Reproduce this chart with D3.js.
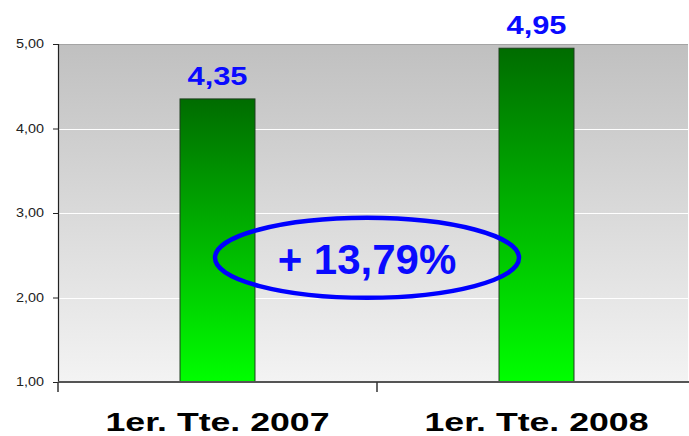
<!DOCTYPE html>
<html>
<head>
<meta charset="utf-8">
<script src="https://cdn.jsdelivr.net/npm/d3@7"></script>
<style>
    body { margin: 0; background: #fff; }
    svg { display: block; font-family: "Liberation Sans", Arial, sans-serif; }
</style>
</head>
<body>
<svg id="chart"></svg>
<script>
const categories = ["1er. Tte. 2007", "1er. Tte. 2008"];
const values = [4.35, 4.95];
const valueLabels = ["4,35", "4,95"];
const yTicks = [1, 2, 3, 4, 5];
const yTickLabels = ["1,00", "2,00", "3,00", "4,00", "5,00"];
const changeLabel = "+ 13,79%";

const width = 689, height = 436;
const margin = { top: 44, left: 58, bottom: 54 };
const plotRight = 688;

const svg = d3.select("#chart").attr("width", width).attr("height", height);

const x = d3.scaleBand().domain(categories).range([margin.left, 696]).padding(0);
const y = d3.scaleLinear().domain([1, 5]).range([height - margin.bottom, margin.top]);

const defs = svg.append("defs");
const bg = defs.append("linearGradient").attr("id", "bg").attr("x1", 0).attr("y1", 0).attr("x2", 0).attr("y2", 1);
bg.append("stop").attr("offset", "0%").attr("stop-color", "#c0c0c0");
bg.append("stop").attr("offset", "100%").attr("stop-color", "#f3f3f3");

const barGrad = defs.append("linearGradient").attr("id", "bar").attr("x1", 0).attr("y1", 0).attr("x2", 0).attr("y2", 1);
barGrad.append("stop").attr("offset", "0%").attr("stop-color", "#006c00");
barGrad.append("stop").attr("offset", "100%").attr("stop-color", "#00ff00");

// plot background
svg.append("rect")
    .attr("x", margin.left)
    .attr("y", y(5))
    .attr("width", plotRight - margin.left)
    .attr("height", y(1) - y(5))
    .attr("fill", "url(#bg)");

// top border
svg.append("line")
    .attr("x1", margin.left).attr("x2", plotRight)
    .attr("y1", y(5) + 0.5).attr("y2", y(5) + 0.5)
    .attr("stroke", "#a4a4a4");

// gridlines
svg.append("g").selectAll("line")
    .data(yTicks.filter(d => d > 1 && d < 5))
    .join("line")
    .attr("x1", margin.left).attr("x2", plotRight)
    .attr("y1", d => Math.round(y(d)) + 0.5).attr("y2", d => Math.round(y(d)) + 0.5)
    .attr("stroke", "#ffffff");

// y axis
const yAxis = svg.append("g")
    .attr("transform", `translate(${margin.left},0)`)
    .call(d3.axisLeft(y).tickValues(yTicks).tickSize(5).tickFormat((d, i) => yTickLabels[i]));
yAxis.select(".domain").attr("stroke", "#222").attr("stroke-width", 1.2);
yAxis.selectAll(".tick line").attr("stroke", "#222");
yAxis.selectAll(".tick text")
    .attr("x", -14)
    .attr("fill", "#222")
    .style("font-size", "12px")
    .attr("textLength", 28)
    .attr("lengthAdjust", "spacingAndGlyphs");

// bars
const barW = x.bandwidth() * 0.235;
svg.append("g").selectAll("rect")
    .data(values)
    .join("rect")
    .attr("x", (d, i) => x(categories[i]) + x.bandwidth() / 2 - barW / 2)
    .attr("y", d => y(d))
    .attr("width", barW)
    .attr("height", d => y(1) - y(d))
    .attr("fill", "url(#bar)")
    .attr("stroke", "#1d3d1d")
    .attr("stroke-width", 1);

// x axis
svg.append("line")
    .attr("x1", margin.left).attr("x2", width)
    .attr("y1", y(1)).attr("y2", y(1))
    .attr("stroke", "#555").attr("stroke-width", 1.8);
svg.append("g").selectAll("line")
    .data([margin.left, x(categories[1])])
    .join("line")
    .attr("x1", d => d).attr("x2", d => d)
    .attr("y1", y(1)).attr("y2", y(1) + 10)
    .attr("stroke", "#333").attr("stroke-width", 1.5);

// value labels
svg.append("g").selectAll("text")
    .data(values)
    .join("text")
    .attr("x", (d, i) => x(categories[i]) + x.bandwidth() / 2)
    .attr("y", d => y(d) - 14)
    .attr("text-anchor", "middle")
    .attr("fill", "#0a0aff")
    .style("font-size", "26px")
    .style("font-weight", "bold")
    .attr("textLength", 60)
    .attr("lengthAdjust", "spacingAndGlyphs")
    .text((d, i) => valueLabels[i]);

// category labels
svg.append("g").selectAll("text")
    .data(categories)
    .join("text")
    .attr("x", d => x(d) + x.bandwidth() / 2)
    .attr("y", 431)
    .attr("text-anchor", "middle")
    .attr("fill", "#000")
    .style("font-size", "25px")
    .style("font-weight", "bold")
    .attr("textLength", 224)
    .attr("lengthAdjust", "spacingAndGlyphs")
    .text(d => d);

// change annotation
const cx = (x(categories[0]) + x(categories[1]) + x.bandwidth()) / 2 - 10;
const cy = y(2.47);
svg.append("ellipse")
    .attr("cx", cx).attr("cy", cy)
    .attr("rx", 152).attr("ry", 40)
    .attr("fill", "none")
    .attr("stroke", "#0000ff")
    .attr("stroke-width", 4.5);
svg.append("text")
    .attr("x", cx)
    .attr("y", cy + 16)
    .attr("text-anchor", "middle")
    .attr("fill", "#0a0aff")
    .style("font-size", "42px")
    .style("font-weight", "bold")
    .text(changeLabel);
</script>
</body>
</html>
